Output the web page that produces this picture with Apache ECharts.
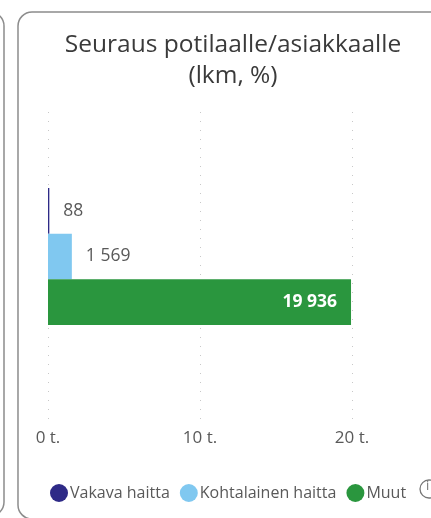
<!DOCTYPE html>
<html>
<head>
<meta charset="utf-8">
<script src="https://cdn.jsdelivr.net/npm/echarts@6/dist/echarts.min.js"></script>
<style>
  html, body { margin: 0; padding: 0; background: #fff; }
  #chart-container { width: 431px; height: 518px; }
</style>
</head>
<body>
<div id="chart-container"></div>
<script>
var dom = document.getElementById('chart-container');
var myChart = echarts.init(dom, null, { renderer: 'canvas' });

// data
var category = ['Seuraus'];
var seriesNames = ['Vakava haitta', 'Kohtalainen haitta', 'Muut'];
var vakava = [88];
var kohtalainen = [1569];
var muut = [19936];
var colors = ['#2e2a87', '#80c8f0', '#2a963e'];

var fontFamily = '"Open Sans", "Noto Sans", sans-serif';

function fmtThousands(v) {
  return String(v).replace(/\B(?=(\d{3})+(?!\d))/g, ' ');
}

var outsideLabel = {
  show: true,
  position: 'right',
  distance: 14,
  color: '#595959',
  fontSize: 17.5,
  fontFamily: fontFamily,
  formatter: function (p) { return fmtThousands(p.value); }
};

var option = {
  animation: false,
  backgroundColor: '#fff',
  color: colors,
  title: {
    text: 'Seuraus potilaalle/asiakkaalle\n(lkm, %)',
    left: 228,
    textAlign: 'center',
    top: 25,
    textStyle: {
      color: '#3a3a3a',
      fontSize: 24.5,
      fontWeight: 'normal',
      lineHeight: 31,
      fontFamily: fontFamily
    }
  },
  legend: {
    data: seriesNames,
    left: 45,
    top: 479,
    icon: 'circle',
    itemWidth: 18,
    itemHeight: 18,
    itemGap: 10,
    textStyle: { color: '#595959', fontSize: 16, fontFamily: fontFamily, padding: [0, 0, 0, -3] }
  },
  graphic: [
    { type: 'rect', shape: { x: -50, y: 12, width: 54, height: 504, r: 14 },
      style: { fill: 'none', stroke: '#8c8c8c', lineWidth: 1.5 } },
    { type: 'rect', shape: { x: 18, y: 12, width: 450, height: 507, r: 14 },
      style: { fill: 'none', stroke: '#8c8c8c', lineWidth: 1.5 } },
    { type: 'circle', shape: { cx: 429, cy: 489, r: 9 },
      style: { fill: 'none', stroke: '#777', lineWidth: 1.3 } },
    { type: 'text', x: 426, y: 480,
      style: { text: 'i', fill: '#777', fontSize: 13, fontFamily: fontFamily } }
  ],
  grid: [
    { left: 48, width: 456, top: 112, height: 308, containLabel: false, outerBoundsMode: 'none' },
    { left: 48, width: 456, top: 188, height: 137, containLabel: false, outerBoundsMode: 'none' }
  ],
  xAxis: [
    {
      gridIndex: 0,
      type: 'value',
      min: 0,
      max: 30000,
      interval: 10000,
      axisLine: { show: false },
      axisTick: { show: false },
      splitLine: { show: true, lineStyle: { color: '#c8c8c8', type: [1, 8], width: 1 } },
      axisLabel: {
        color: '#595959',
        fontSize: 17,
        fontFamily: fontFamily,
        margin: 10,
        formatter: function (v) { return v / 1000 + ' t.'; }
      }
    },
    {
      gridIndex: 1,
      type: 'value',
      min: 0,
      max: 30000,
      interval: 10000,
      show: false,
      splitLine: { show: false }
    }
  ],
  yAxis: [
    { gridIndex: 0, type: 'category', data: category, show: false },
    { gridIndex: 1, type: 'category', data: category, show: false, inverse: true }
  ],
  series: [
    {
      name: seriesNames[0], type: 'bar', xAxisIndex: 1, yAxisIndex: 1,
      data: vakava, barGap: '0%', barCategoryGap: '0%', label: outsideLabel
    },
    {
      name: seriesNames[1], type: 'bar', xAxisIndex: 1, yAxisIndex: 1,
      data: kohtalainen, barGap: '0%', barCategoryGap: '0%', label: outsideLabel
    },
    {
      name: seriesNames[2], type: 'bar', xAxisIndex: 1, yAxisIndex: 1,
      data: muut, barGap: '0%', barCategoryGap: '0%',
      label: {
        show: true,
        position: 'insideRight',
        distance: 14,
        color: '#fff',
        fontSize: 17.5,
        fontWeight: 'bold',
        fontFamily: fontFamily,
        formatter: function (p) { return fmtThousands(p.value); }
      }
    }
  ]
};

myChart.setOption(option);
window.addEventListener('resize', myChart.resize);
</script>
</body>
</html>
